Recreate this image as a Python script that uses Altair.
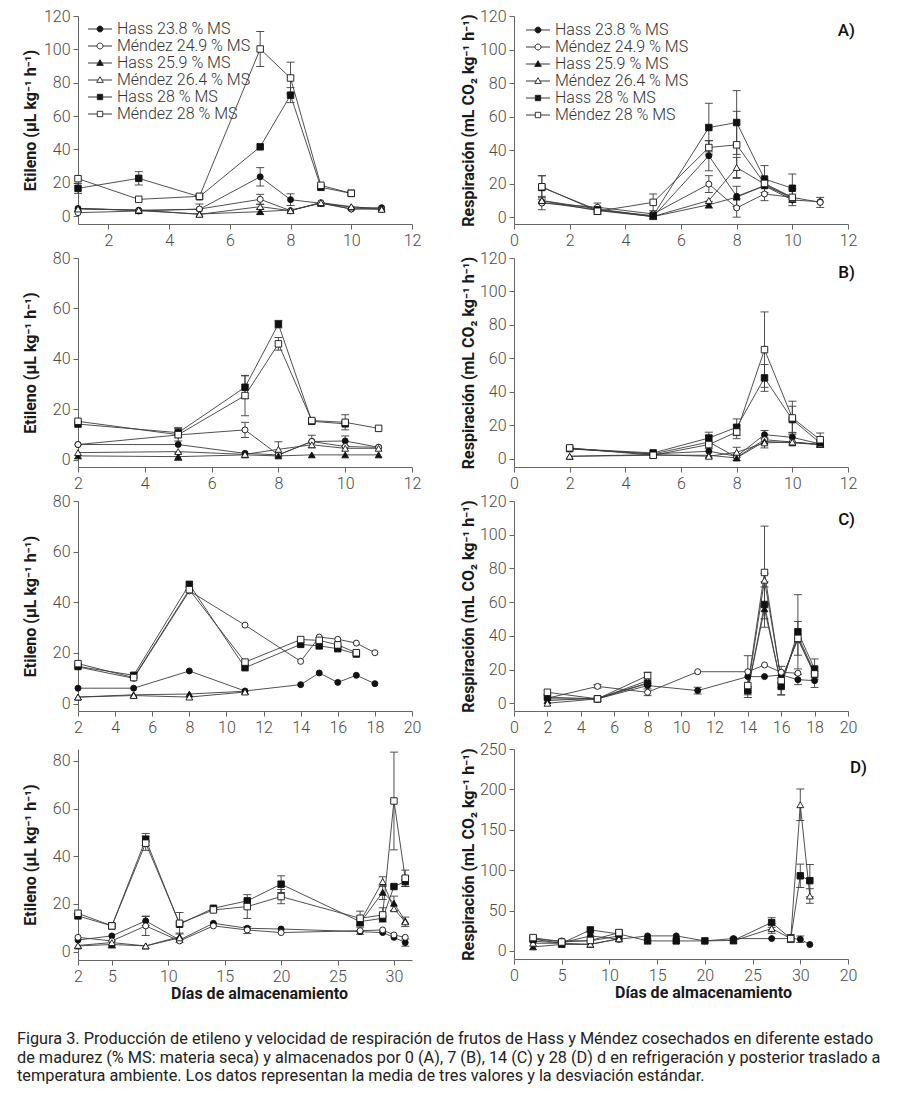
import altair as alt
import pandas as pd

SERIES = ["Hass 23.8 % MS", "Méndez 24.9 % MS", "Hass 25.9 % MS",
          "Méndez 26.4 % MS", "Hass 28 % MS", "Méndez 28 % MS"]
SHAPES = ["circle", "circle", "triangle-up", "triangle-up", "square", "square"]
FILLS = ["#111111", "#ffffff", "#111111", "#ffffff", "#111111", "#ffffff"]
SIZES = [36, 36, 46, 46, 42, 42]
LEGEND_PATHS = [
    "M-2,0H2M-0.5,0A0.5,0.5 0 1,0 0.5,0A0.5,0.5 0 1,0 -0.5,0Z",
    "M-2,0H-0.5M0.5,0H2M-0.5,0A0.5,0.5 0 1,0 0.5,0A0.5,0.5 0 1,0 -0.5,0Z",
    "M-2,0H2M0,-0.55L0.55,0.4L-0.55,0.4Z",
    "M-2,0H-0.3M0.3,0H2M0,-0.55L0.55,0.4L-0.55,0.4Z",
    "M-2,0H2M-0.45,-0.45H0.45V0.45H-0.45Z",
    "M-2,0H-0.45M0.45,0H2M-0.45,-0.45H0.45V0.45H-0.45Z",
]

ETI_TITLE = "Etileno (µL kg⁻¹ h⁻¹)"
RES_TITLE = "Respiración (mL CO₂ kg⁻¹ h⁻¹)"
X_TITLE = "Días de almacenamiento"

# ---------------- A) 0 d ----------------
A_ETI_DAYS = [1, 3, 5, 7, 8, 9, 10, 11]
A_ETI = [
    [4.5, 3.5, 4.0, 23.5, 9.8, 7.6, 4.2, 5.0],
    [2.0, 3.0, 4.2, 10.0, 3.2, 8.0, 4.2, 4.0],
    [4.6, 3.2, 1.2, 2.6, 3.6, 7.6, 5.4, 4.6],
    [4.2, 3.6, 1.0, 5.6, 3.2, 8.0, 5.6, 4.0],
    [16.6, 22.6, 11.6, 41.5, 72.5, 17.2, 13.6, None],
    [22.4, 10.0, 11.8, 100.2, 82.8, 18.4, 13.6, None],
]
A_ETI_ERR = [
    [0, 0, 0, 5.5, 3.5, 0, 0, 0],
    [0, 0, 3.0, 3.0, 0, 0, 0, 0],
    [0, 0, 0, 1.5, 0, 0, 0, 0],
    [0, 0, 0, 1.5, 0, 0, 0, 0],
    [3.0, 4.0, 0, 0, 4.5, 0, 0, 0],
    [0, 0, 0, 10.5, 9.5, 0, 0, 0],
]
A_RES_DAYS = [1, 3, 5, 7, 8, 9, 10, 11]
A_RES = [
    [8.9, 4.4, 0.4, 36.7, 12.5, 18.8, 10.3, 9.3],
    [8.5, 6.0, 2.0, 19.8, 5.6, 13.9, 11.9, 8.9],
    [9.9, 4.0, 0.4, 7.5, 12.0, 18.8, 12.0, None],
    [10.0, 5.0, 0.5, 10.0, 29.7, 19.8, 11.0, None],
    [17.8, 4.4, 1.0, 53.5, 56.5, 22.8, 17.3, None],
    [18.2, 3.6, 8.9, 41.6, 43.2, 20.2, 11.9, None],
]
A_RES_ERR = [
    [0, 0, 0, 9.0, 6.0, 0, 0, 0],
    [4.0, 2.5, 0, 5.0, 5.5, 4.0, 0, 3.0],
    [0, 0, 0, 2.0, 0, 0, 0, 0],
    [0, 0, 0, 0, 6.0, 0, 0, 0],
    [7.0, 0, 0, 14.5, 19.0, 8.0, 8.5, 0],
    [6.5, 2.0, 5.0, 4.0, 20.0, 0, 5.0, 0],
]

# ---------------- B) 7 d ----------------
B_ETI_DAYS = [2, 5, 7, 8, 9, 10, 11]
B_ETI = [
    [6.1, 6.1, 2.6, 2.0, 7.3, 7.5, 5.0],
    [6.1, 9.9, 11.9, 2.0, 7.3, 5.3, 5.0],
    [1.6, 1.3, 2.0, 1.6, 2.0, 2.0, 2.0],
    [2.9, 3.3, 2.2, 4.2, 6.0, 4.6, 4.6],
    [14.2, 10.8, 28.8, 53.8, 15.3, 14.3, None],
    [15.3, 10.0, 25.5, 46.0, 15.6, 14.9, 12.5],
]
B_ETI_ERR = [
    [0, 0, 0, 0, 0, 2.0, 0],
    [0, 0, 3.0, 0, 2.5, 0, 0],
    [0, 1.5, 0, 0, 0, 0, 0],
    [0, 0, 0, 3.0, 0, 0, 0],
    [0, 2.0, 4.5, 1.5, 0, 0, 0],
    [0, 2.5, 8.0, 2.5, 0, 3.0, 0],
]
B_RES_DAYS = [2, 5, 7, 8, 9, 10, 11]
B_RES = [
    [6.2, 3.0, 4.6, 1.6, 14.5, 12.9, 9.0],
    [6.0, 3.0, 10.1, 1.0, 11.5, 10.1, 8.6],
    [1.6, 2.2, 2.2, 0.6, 10.5, 9.6, 8.6],
    [1.6, 2.6, 1.6, 4.0, 9.6, 10.1, 8.6],
    [6.2, 3.6, 12.5, 18.9, 48.4, 23.5, 9.6],
    [6.6, 2.2, 8.6, 16.1, 65.3, 24.5, 11.5],
]
B_RES_ERR = [
    [0, 0, 0, 0, 2.5, 3.0, 0],
    [0, 0, 4.0, 2.0, 0, 0, 0],
    [0, 0, 0, 0, 0, 0, 0],
    [0, 0, 0, 3.0, 3.0, 0, 0],
    [0, 0, 3.5, 5.0, 8.0, 8.0, 0],
    [0, 0, 0, 4.0, 22.5, 10.0, 4.0],
]

# ---------------- C) 14 d ----------------
C_ETI_DAYS = [2, 5, 8, 11, 14, 15, 16, 17, 18]
C_ETI = [
    [6.1, 6.1, 12.9, 5.0, 7.5, 12.1, 8.4, 11.2, 7.9],
    [14.5, 10.0, 44.5, 31.0, 16.7, 26.3, 25.4, 23.9, 20.1],
    [2.6, 3.5, 3.8, 4.9, None, None, None, None, None],
    [2.6, 3.2, 2.6, 4.6, None, None, None, None, None],
    [14.7, 11.2, 47.1, 14.2, 23.4, 22.8, 21.7, 19.6, None],
    [15.8, 10.3, 45.0, 16.4, 25.3, 25.0, 23.2, 20.1, None],
]
C_ETI_ERR = [[0] * 9 for _ in range(6)]
C_RES_DAYS = [2, 5, 8, 11, 14, 15, 16, 17, 18]
C_RES = [
    [2.6, 2.6, 10.5, 7.5, 15.8, 15.8, 16.8, 14.0, 13.4],
    [3.0, 10.0, 6.5, 18.7, 18.7, 22.7, 18.4, 17.8, None],
    [1.6, 3.0, 12.0, None, 8.0, 56.0, 11.0, 40.0, 18.0],
    [0.0, 2.6, 13.4, None, 9.0, 73.0, 14.0, 38.0, 17.0],
    [3.6, 2.6, 11.8, None, 7.5, 58.6, 10.0, 42.4, 20.3],
    [6.5, 2.6, 16.4, None, 10.5, 77.6, 13.4, 38.5, 17.4],
]
C_RES_ERR = [
    [0, 0, 0, 2.0, 12.4, 0, 0, 3.0, 4.0],
    [0, 1.0, 2.0, 0, 0, 0, 0, 0, 0],
    [0, 0, 0, 0, 0, 0, 0, 0, 0],
    [0, 0, 0, 0, 0, 4.0, 0, 0, 0],
    [0, 0, 0, 0, 2.5, 13.5, 5.0, 22.0, 6.0],
    [0, 0, 2.0, 0, 0, 27.5, 8.5, 10.0, 0],
]

# ---------------- D) 28 d ----------------
D_ETI_DAYS = [2, 5, 8, 11, 14, 17, 20, 27, 29, 30, 31]
D_ETI = [
    [4.9, 6.6, 12.9, 4.9, 11.9, 9.8, 9.5, 8.4, 8.0, 6.0, 3.8],
    [6.0, 4.5, 10.8, 4.5, 10.8, 9.1, 8.0, 8.8, 9.1, 7.0, 6.0],
    [2.4, 3.0, 2.4, 6.3, None, None, None, 12.0, 24.9, 20.3, 12.9],
    [2.6, 3.8, 2.4, 5.8, None, None, None, 12.5, 29.4, 18.0, 12.5],
    [15.0, 10.8, 47.1, 11.5, 18.2, 21.3, 28.3, 12.6, 14.0, 27.3, 29.4],
    [16.1, 10.8, 45.5, 11.9, 17.5, 18.9, 23.1, 14.0, 15.4, 63.2, 30.8],
]
D_ETI_ERR = [
    [0, 0, 2.0, 0, 0, 0, 0, 0, 0, 0, 1.5],
    [0, 0, 4.0, 0, 0, 1.5, 0, 1.5, 0, 0, 0],
    [0, 1.5, 0, 0, 0, 0, 0, 0, 3.0, 3.0, 0],
    [0, 0, 0, 2.0, 0, 0, 0, 0, 2.0, 0, 2.0],
    [0, 0, 2.5, 0, 0, 0, 3.5, 0, 0, 0, 2.0],
    [0, 0, 3.0, 4.5, 0, 5.0, 3.0, 3.0, 3.0, 20.5, 3.4],
]
D_RES_DAYS = [2, 5, 8, 11, 14, 17, 20, 23, 27, 29, 30, 31]
D_RES = [
    [12.0, 10.0, 18.6, 14.5, 18.6, 18.6, 12.4, 15.3, 15.3, 15.3, 14.5, 7.9],
    [14.5, 12.4, 12.4, 18.6, None, None, None, None, None, 15.3, None, None],
    [5.0, 8.0, 8.0, 15.0, None, None, None, None, None, None, None, None],
    [9.5, 9.5, 8.3, 15.0, None, None, None, 12.4, 27.8, 15.3, 181.0, 68.0],
    [14.5, 9.5, 26.0, 21.0, 12.4, 12.4, 12.4, 13.0, 35.2, 15.3, 93.0, 87.0],
    [16.5, 11.0, 13.0, 22.7, None, None, None, None, None, 15.3, None, None],
]
D_RES_ERR = [
    [0, 0, 0, 0, 0, 0, 0, 0, 0, 0, 4.0, 0],
    [0, 0, 0, 5.0, 0, 0, 0, 0, 0, 0, 0, 0],
    [0, 0, 0, 0, 0, 0, 0, 0, 0, 0, 0, 0],
    [0, 0, 0, 0, 0, 0, 0, 0, 6.0, 0, 19.5, 9.0],
    [0, 0, 0, 5.0, 0, 0, 0, 0, 6.0, 0, 14.5, 20.0],
    [3.0, 0, 0, 0, 0, 0, 0, 0, 0, 5.0, 0, 0],
]

CAPTION = [
    "Figura 3. Producción de etileno y velocidad de respiración de frutos de Hass y Méndez cosechados en diferente estado",
    "de madurez (% MS: materia seca) y almacenados por 0 (A), 7 (B), 14 (C) y 28 (D) d en refrigeración y posterior traslado a",
    "temperatura ambiente. Los datos representan la media de tres valores y la desviación estándar.",
]

LINE_COLOR = "#3c3c3c"


def build_frame(days, vals, errs):
    rows = []
    for s, vlist, elist in zip(SERIES, vals, errs):
        seg = 0
        gap = True
        for d, v, e in zip(days, vlist, elist):
            if v is None:
                gap = True
                continue
            if gap:
                seg += 1
                gap = False
            rows.append(dict(series=s, day=d, value=v, err=e, lo=v - e, hi=v + e,
                             seg=f"{s}-{seg}"))
    return pd.DataFrame(rows)


def panel(days, vals, errs, xdom, xticks, ydom, yticks, ytitle, width, height,
          title_x, legend_pos=None, tag=None, tag_dx=7, tag_dy=11,
          xtitle=None, xtitle_x=None, xlabel_expr=None, spacer=None):
    df = build_frame(days, vals, errs)
    xaxis_kw = dict(values=xticks, grid=False, labelFlush=False, labelOverlap=False)
    if xtitle is not None:
        xaxis_kw.update(title=xtitle, titleX=xtitle_x, titlePadding=1)
    else:
        xaxis_kw.update(title=None)
    if xlabel_expr is not None:
        xaxis_kw.update(labelExpr=xlabel_expr)
    xaxis = alt.Axis(**xaxis_kw)
    yaxis = alt.Axis(values=yticks, title=ytitle, titleX=title_x, grid=False,
                     labelOverlap=False)
    xs = alt.Scale(domain=xdom, nice=False, zero=False)
    ys = alt.Scale(domain=ydom, nice=False, zero=False)

    def X(f):
        return alt.X(f"{f}:Q", scale=xs, axis=xaxis)

    def Y(f):
        return alt.Y(f"{f}:Q", scale=ys, axis=yaxis)

    base = alt.Chart(df)
    layers = [
        base.mark_line(color=LINE_COLOR, strokeWidth=0.9).encode(
            x=X("day"), y=Y("value"), detail="seg:N"),
    ]
    eb = base.transform_filter("datum.err > 0")
    layers.append(eb.mark_rule(color=LINE_COLOR, strokeWidth=0.9).encode(
        x=X("day"), y=Y("lo"), y2="hi:Q"))
    layers.append(eb.mark_tick(orient="horizontal", size=8, thickness=0.9,
                               color=LINE_COLOR, opacity=1).encode(x=X("day"), y=Y("lo")))
    layers.append(eb.mark_tick(orient="horizontal", size=8, thickness=0.9,
                               color=LINE_COLOR, opacity=1).encode(x=X("day"), y=Y("hi")))
    for s, sh, fc, sz in zip(SERIES, SHAPES, FILLS, SIZES):
        layers.append(
            base.transform_filter(alt.datum.series == s)
            .mark_point(shape=sh, filled=True, fill=fc, stroke="#111111",
                        strokeWidth=0.9, size=sz, opacity=1)
            .encode(x=X("day"), y=Y("value"))
        )
    if legend_pos is not None:
        lg = dict(orient="none", legendX=legend_pos[0], legendY=legend_pos[1],
                  title=None, symbolSize=144, symbolStrokeColor="#222222",
                  symbolStrokeWidth=0.9, labelFont="Roboto", labelFontSize=16,
                  labelFontWeight=300, labelColor="#333333", labelOffset=9,
                  rowPadding=1, padding=0)
        layers.append(
            base.transform_filter("false")
            .mark_point(filled=True, size=144, strokeWidth=0.9, opacity=1)
            .encode(
                x=X("day"), y=Y("value"),
                shape=alt.Shape("series:N", scale=alt.Scale(domain=SERIES, range=LEGEND_PATHS),
                                legend=alt.Legend(**lg)),
                fill=alt.Fill("series:N", scale=alt.Scale(domain=SERIES, range=FILLS),
                              legend=alt.Legend(**lg)),
                stroke=alt.Stroke("series:N",
                                  scale=alt.Scale(domain=SERIES, range=["#222222"] * 6),
                                  legend=alt.Legend(**lg)),
            )
        )
    props = dict(width=width, height=height)
    if tag is not None:
        props["title"] = alt.TitleParams(tag, anchor="end", frame="group", offset=-21,
                                         dx=tag_dx, dy=tag_dy, fontSize=17, font="Roboto",
                                         fontWeight=500, color="#111111")
    elif spacer is not None:
        props["title"] = alt.TitleParams(" ", fontSize=2, offset=spacer)
    return alt.layer(*layers).properties(**props)


W = 334
pA1 = panel(A_ETI_DAYS, A_ETI, A_ETI_ERR, [1, 12], [2, 4, 6, 8, 10, 12], [-4.8, 120],
            [0, 20, 40, 60, 80, 100, 120], ETI_TITLE, W, 208, -40, legend_pos=(14, 5))
pA2 = panel(A_RES_DAYS, A_RES, A_RES_ERR, [0, 12], [0, 2, 4, 6, 8, 10, 12], [-4, 120],
            [0, 20, 40, 60, 80, 100, 120], RES_TITLE, W, 208, -38, legend_pos=(16, 6),
            tag="A)", tag_dy=11)
pB1 = panel(B_ETI_DAYS, B_ETI, B_ETI_ERR, [2, 12], [2, 4, 6, 8, 10, 12], [-2.8, 80],
            [0, 20, 40, 60, 80], ETI_TITLE, W, 209, -40)
pB2 = panel(B_RES_DAYS, B_RES, B_RES_ERR, [0, 12], [0, 2, 4, 6, 8, 10, 12], [-4.8, 120],
            [0, 20, 40, 60, 80, 100, 120], RES_TITLE, W, 209, -38, tag="B)", tag_dy=11)
pC1 = panel(C_ETI_DAYS, C_ETI, C_ETI_ERR, [2, 20], list(range(2, 21, 2)), [-2.9, 80],
            [0, 20, 40, 60, 80], ETI_TITLE, W, 210, -40)
pC2 = panel(C_RES_DAYS, C_RES, C_RES_ERR, [0, 20], list(range(0, 21, 2)), [-4.6, 120],
            [0, 20, 40, 60, 80, 100, 120], RES_TITLE, W, 210, -38, tag="C)", tag_dy=15)
pD1 = panel(D_ETI_DAYS, D_ETI, D_ETI_ERR, [2, 31.6], [2, 5, 10, 15, 20, 25, 30], [-3.5, 85],
            [0, 20, 40, 60, 80], ETI_TITLE, W, 211, -40, xtitle=X_TITLE, xtitle_x=181,
            spacer=10)
pD2 = panel(D_RES_DAYS, D_RES, D_RES_ERR, [0, 35], [0, 5, 10, 15, 20, 25, 30, 35], [-10, 250],
            [0, 50, 100, 150, 200, 250], RES_TITLE, W, 210, -38, tag="D)", tag_dx=19,
            tag_dy=15, xtitle=X_TITLE, xtitle_x=189,
            xlabel_expr="datum.value == 35 ? '20' : datum.label")

chart = (
    alt.concat(pA1, pA2, pB1, pB2, pC1, pC2, pD1, pD2, columns=2,
               spacing={"row": 2, "column": 38}, align="each")
    .resolve_scale(shape="independent", fill="independent", stroke="independent")
    .properties(
        title=alt.TitleParams(CAPTION, orient="bottom", anchor="start", frame="bounds",
                              offset=30, dx=-5, fontSize=16.3, font="Roboto",
                              fontWeight="normal", color="#222222", lineHeight=18.5),
        padding={"left": 9, "top": 0, "right": 5, "bottom": 5},
    )
    .configure_view(stroke=None)
    .configure_axis(domainColor="#666666", tickColor="#666666", labelColor="#4a4a4a",
                    labelFont="Roboto", labelFontSize=16, labelFontWeight=300,
                    titleFont="Roboto", titleFontSize=16, titleFontWeight="bold",
                    titleColor="#1a1a1a", tickSize=5, labelPadding=3, domainWidth=1,
                    tickWidth=1)
)

chart.save("out.html", embed_options={"renderer": "svg", "actions": False})
